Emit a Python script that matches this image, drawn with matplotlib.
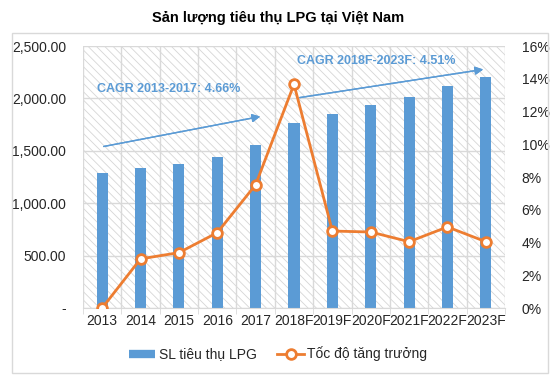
import matplotlib.pyplot as plt
from matplotlib.patches import Rectangle
from matplotlib.lines import Line2D
from matplotlib.ticker import FuncFormatter

plt.rcParams['font.family'] = ['Liberation Sans', 'DejaVu Sans']
plt.rcParams['hatch.color'] = '#d6d6d6'
plt.rcParams['hatch.linewidth'] = 0.6

# du lieu
years = ['2013', '2014', '2015', '2016', '2017', '2018F', '2019F', '2020F', '2021F', '2022F', '2023F']
sl_lpg = [1291, 1339, 1377, 1444, 1555, 1768, 1851, 1937, 2016, 2118, 2204]
tang_truong = [0.0, 3.0, 3.38, 4.6, 7.53, 13.66, 4.70, 4.64, 4.05, 4.95, 4.05]

BLUE = '#5B9BD5'
ORANGE = '#ED7D31'
GRID = '#d9d9d9'
TXT = '#262626'

fig = plt.figure(figsize=(5.56, 3.81), dpi=100)
ax = fig.add_axes([83/556, 73/381, 422/556, 262/381])

# khung ngoai
fig.patches.append(Rectangle((12/556, 8/381), 536/556, 340/381, transform=fig.transFigure,
                             fill=False, edgecolor=GRID, lw=1))

# nen gach cheo
ax.add_patch(Rectangle((0, 0), 1, 1, transform=ax.transAxes, facecolor='white',
                       edgecolor='#d6d6d6', lw=0, hatch='\\\\\\\\', zorder=0))

x = list(range(len(years)))
ax.bar(x, sl_lpg, width=0.29, color=BLUE, zorder=2)
ax.set_xlim(-0.5, len(years) - 0.5)
ax.set_ylim(0, 2500)
ax.set_yticks(range(0, 2501, 500))
ax.yaxis.set_major_formatter(FuncFormatter(lambda v, p: '-' if v == 0 else f'{v:,.2f}'))
ax.set_xticks(x)
ax.set_xticklabels(years)
ax.set_xticks([i + 0.5 for i in range(-1, len(years))], minor=True)
ax.tick_params(axis='x', which='major', length=0, labelsize=10, pad=4, labelcolor=TXT)
ax.tick_params(axis='x', which='minor', length=4, color=GRID)
ax.tick_params(axis='y', length=0, labelsize=10, pad=12, labelcolor=TXT)
ax.grid(axis='y', color=GRID, lw=1, zorder=1)
ax.grid(axis='x', which='minor', color=GRID, lw=1, zorder=1)
ax.set_axisbelow(True)
for s in ax.spines.values():
    s.set_visible(False)
ax.spines['bottom'].set_visible(True)
ax.spines['bottom'].set_color(GRID)

ax2 = ax.twinx()
ax2.plot(x, tang_truong, color=ORANGE, lw=2, marker='o', markersize=7,
         markerfacecolor='white', markeredgecolor=ORANGE, markeredgewidth=2, zorder=3)
ax2.set_ylim(0, 16)
ax2.set_yticks(range(0, 17, 2))
ax2.yaxis.set_major_formatter(FuncFormatter(lambda v, p: f'{v:.0f}%'))
ax2.tick_params(axis='y', length=0, labelsize=10, pad=12, labelcolor=TXT)
for s in ax2.spines.values():
    s.set_visible(False)

# mui ten CAGR
def fx(px):
    return px / 556
def fy(py):
    return 1 - py / 381

fig.add_artist(plt.annotate('', xy=(fx(263), fy(116)), xytext=(fx(101), fy(147)),
                            xycoords='figure fraction',
                            arrowprops=dict(arrowstyle='-|>', color=BLUE, lw=1, mutation_scale=12)))
fig.add_artist(plt.annotate('', xy=(fx(486), fy(69)), xytext=(fx(297), fy(98)),
                            xycoords='figure fraction',
                            arrowprops=dict(arrowstyle='-|>', color=BLUE, lw=1, mutation_scale=12)))
fig.text(fx(97), fy(89), 'CAGR 2013-2017: 4.66%', color=BLUE, fontsize=9, fontweight='bold', va='center')
fig.text(fx(297), fy(61), 'CAGR 2018F-2023F: 4.51%', color=BLUE, fontsize=9, fontweight='bold', va='center')

fig.text(0.5, fy(18), 'Sản lượng tiêu thụ LPG tại Việt Nam', ha='center', va='center',
         fontsize=10.5, fontweight='bold', color='black')

handles = [Line2D([], [], color=BLUE, lw=6, solid_capstyle='butt', label='SL tiêu thụ LPG'),
           Line2D([], [], color=ORANGE, lw=2, marker='o', markersize=7, markerfacecolor='white',
                  markeredgecolor=ORANGE, markeredgewidth=2, label='Tốc độ tăng trưởng')]
fig.legend(handles=handles, loc='center', bbox_to_anchor=(0.5, fy(354)), ncol=2, frameon=False,
           fontsize=10, handlelength=1.9, columnspacing=1.5, handletextpad=0.25,
           labelcolor=TXT)

fig.savefig('out.png', dpi=100)
